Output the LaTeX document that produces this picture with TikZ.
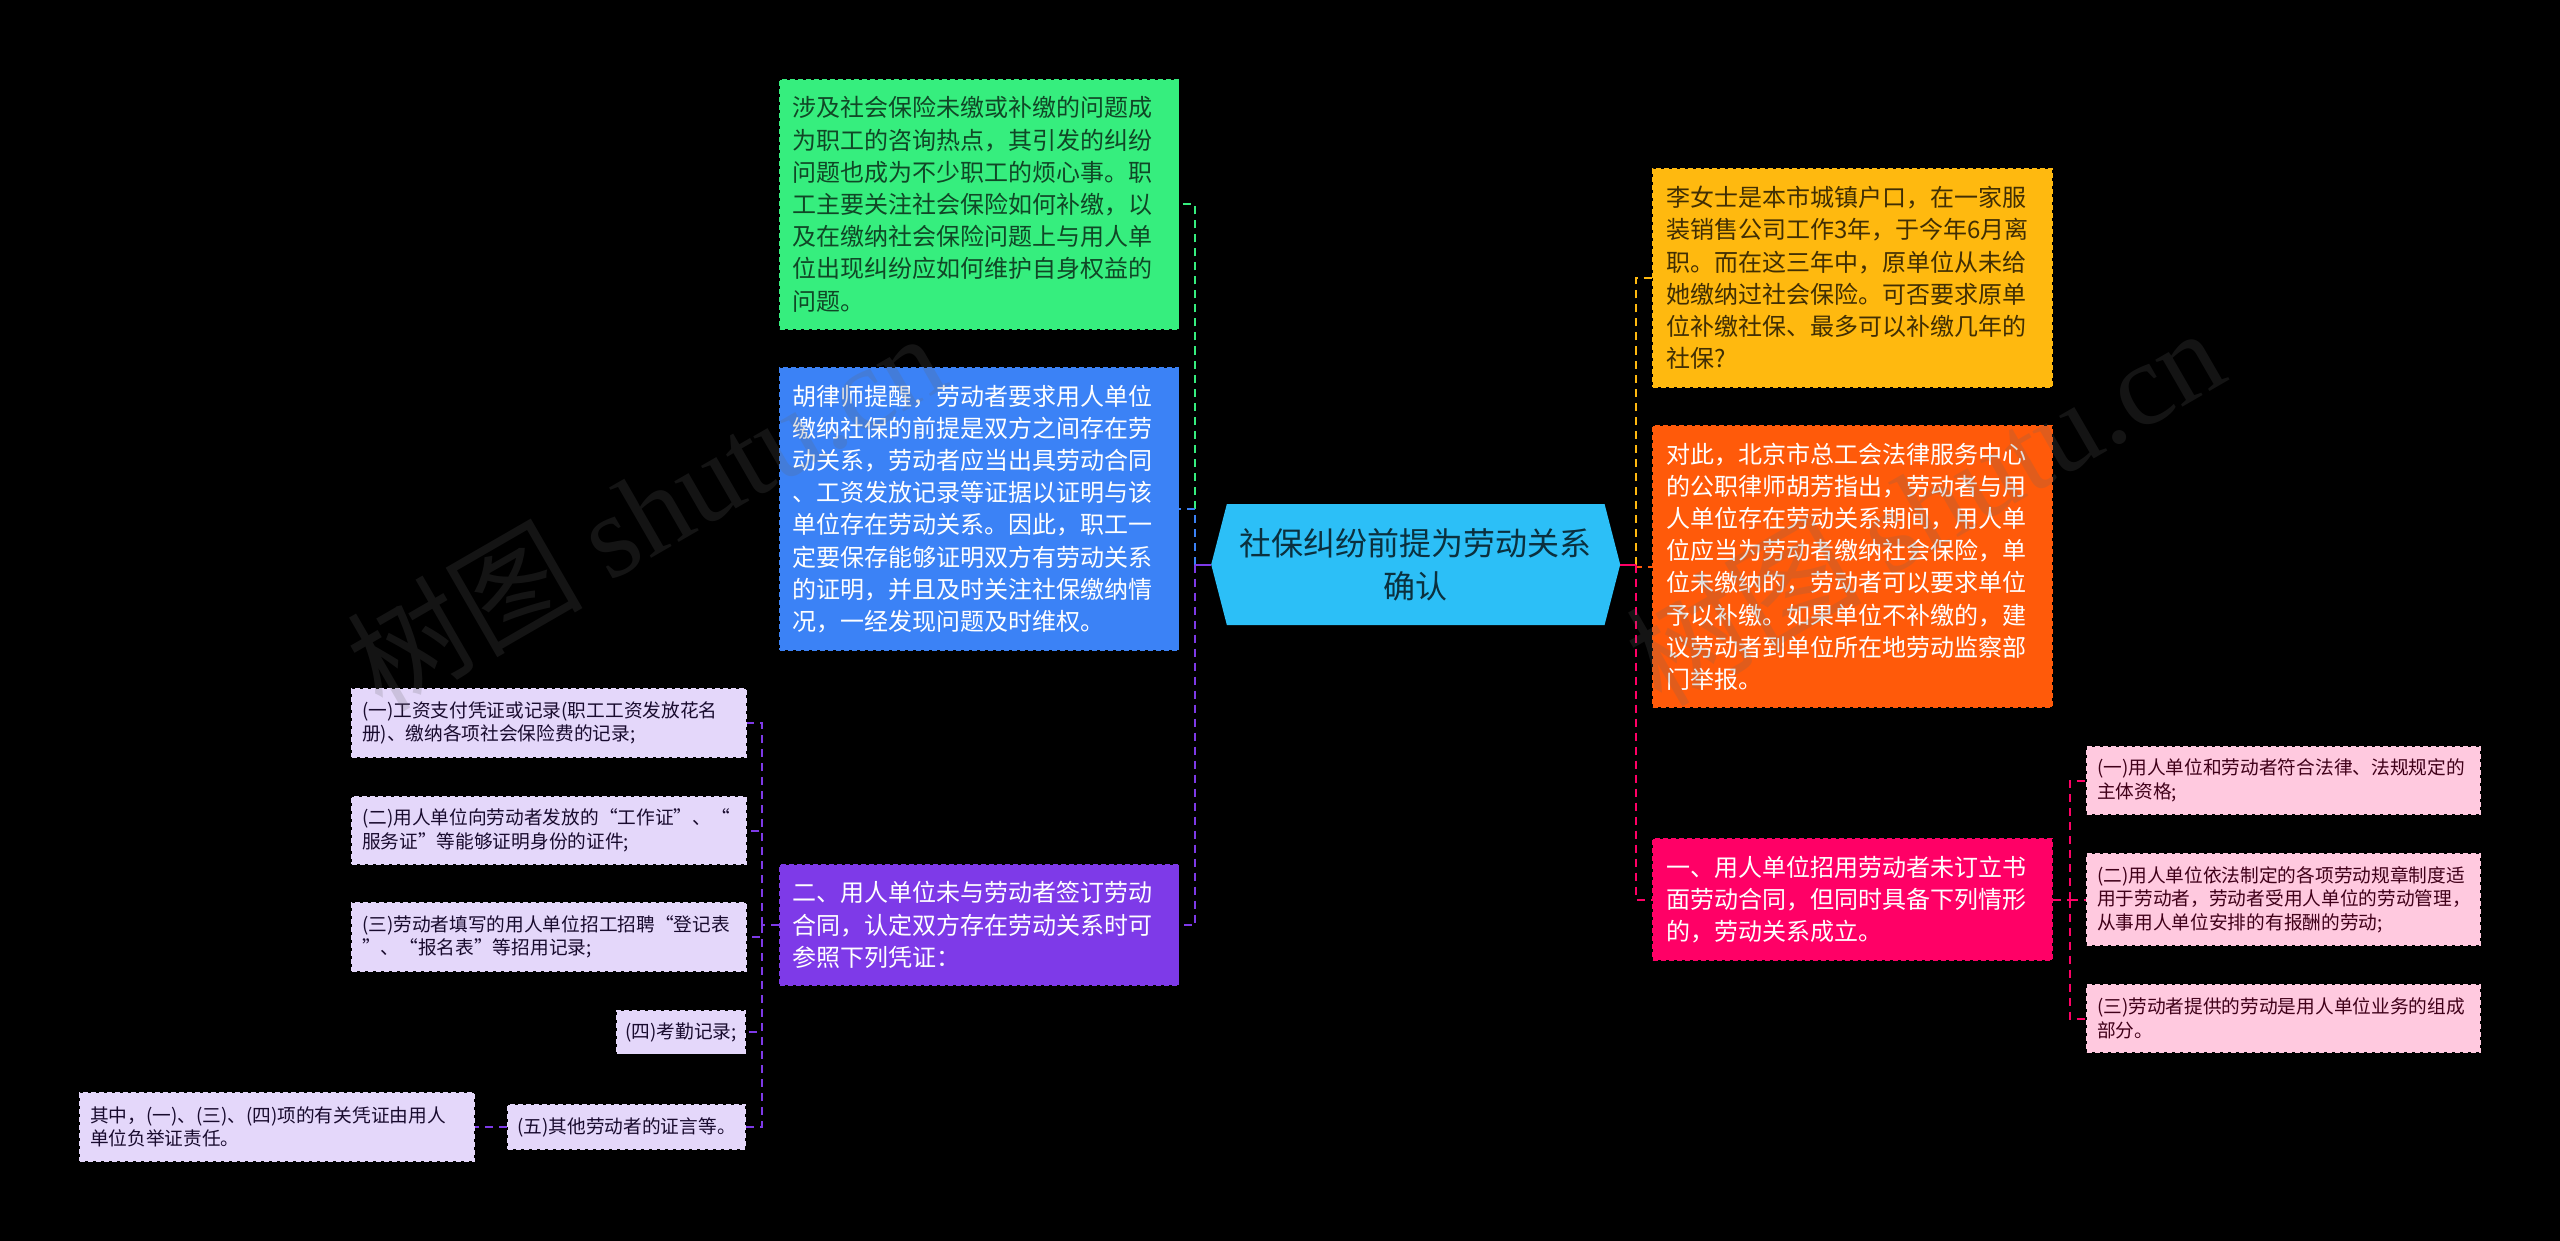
\documentclass[tikz,border=0pt]{standalone}
\usepackage{fontspec}
\setmainfont{Noto Sans CJK SC}
\newfontfamily\markfont{Liberation Serif}
\usetikzlibrary{shapes.symbols}
\definecolor{grn}{HTML}{36EE7E}
\definecolor{blu}{HTML}{3B82F6}
\definecolor{vio}{HTML}{7E3AE8}
\definecolor{yel}{HTML}{FFB90F}
\definecolor{org}{HTML}{FF5A0A}
\definecolor{pnk}{HTML}{FF0066}
\definecolor{sky}{HTML}{2CBFF7}
\definecolor{lvio}{HTML}{E4D7FA}
\definecolor{lpnk}{HTML}{FFC9DF}
\tikzset{
    branch box/.style={
        fill=#1,draw=#1,line width=1.5pt,dash pattern=on 5pt off 3pt,
        align=left,text width=373pt,inner xsep=13pt,inner ysep=0pt,
        font=\fontsize{24}{32.2}\selectfont
    },
    leaf box/.style={
        fill=#1,draw=#1,line width=1.5pt,dash pattern=on 5pt off 3pt,
        align=left,inner xsep=10pt,inner ysep=0pt,
        font=\fontsize{18.7}{23.7}\selectfont
    },
    link/.style={draw=#1,line width=2pt,dash pattern=on 8pt off 6pt},
    watermark/.style={
        rotate=30,text=black!60,text opacity=.2,inner sep=0pt,
        font=\fontsize{118}{118}\selectfont
    }
}
\begin{document}
\begin{tikzpicture}[x=1pt,y=-1pt]
        \useasboundingbox (0,0) rectangle (2560,1241);
        \fill[black] (0,0) rectangle (2560,1241);
        \coordinate (lt) at (1195,564.5);
        \coordinate (rt) at (1636,564.5);
        \coordinate (ltb) at (762,925);
        \coordinate (rtb) at (2069.5,899.5);
        \node[shape=signal,signal to=east and west,signal pointer angle=151,
        fill=sky,inner sep=0pt,minimum width=409pt,minimum height=121pt,align=center,
        text=black!75!sky,font=\fontsize{32}{43}\selectfont] (root) at (1415.7,564.5)
        {社保纠纷前提为劳动关系\\确认};
        \node[branch box=grn,text=black!70!grn,minimum height=249pt] (safety) at (979,204.3)
        {涉及社会保险未缴或补缴的问题成\\为职工的咨询热点，其引发的纠纷\\问题也成为不少职工的烦心事。职\\工主要关注社会保险如何补缴，以\\及在缴纳社会保险问题上与用人单\\位出现纠纷应如何维护自身权益的\\问题。};
        \node[branch box=blu,text=white,minimum height=282pt] (remind) at (979,509)
        {胡律师提醒，劳动者要求用人单位\\缴纳社保的前提是双方之间存在劳\\动关系，劳动者应当出具劳动合同\\、工资发放记录等证据以证明与该\\单位存在劳动关系。因此，职工一\\定要保存能够证明双方有劳动关系\\的证明，并且及时关注社保缴纳情\\况，一经发现问题及时维权。};
        \node[branch box=vio,text=white,minimum height=120pt] (proof) at (979,925)
        {二、用人单位未与劳动者签订劳动\\合同，认定双方存在劳动关系时可\\参照下列凭证：};
        \node[branch box=yel,text=black!75!yel,minimum height=218pt] (question) at (1852.5,278)
        {李女士是本市城镇户口，在一家服\\装销售公司工作3年，于今年6月离\\职。而在这三年中，原单位从未给\\她缴纳过社会保险。可否要求原单\\位补缴社保、最多可以补缴几年的\\社保?};
        \node[branch box=org,text=white,minimum height=281pt] (answer) at (1852.5,566.7)
        {对此，北京市总工会法律服务中心\\的公职律师胡芳指出，劳动者与用\\人单位存在劳动关系期间，用人单\\位应当为劳动者缴纳社会保险，单\\位未缴纳的，劳动者可以要求单位\\予以补缴。如果单位不补缴的，建\\议劳动者到单位所在地劳动监察部\\门举报。};
        \node[branch box=pnk,text=white,minimum height=121pt] (contract) at (1852.5,899.5)
        {一、用人单位招用劳动者未订立书\\面劳动合同，但同时具备下列情形\\的，劳动关系成立。};
        \node[leaf box=lvio,text width=374pt,text=black!80!vio,minimum height=68pt] (wage) at (549,723)
        {(一)工资支付凭证或记录(职工工资发放花名\\册)、缴纳各项社会保险费的记录;};
        \node[leaf box=lvio,text width=374pt,text=black!80!vio,minimum height=67pt] (card) at (549,830.5)
        {(二)用人单位向劳动者发放的“工作证”、“\\服务证”等能够证明身份的证件;};
        \node[leaf box=lvio,text width=374pt,text=black!80!vio,minimum height=68pt] (form) at (549,937)
        {(三)劳动者填写的用人单位招工招聘“登记表\\”、“报名表”等招用记录;};
        \node[leaf box=lvio,text=black!80!vio,minimum height=43pt,inner xsep=8.5pt,anchor=east] (attend) at (746,1032)
        {(四)考勤记录;};
        \node[leaf box=lvio,text=black!80!vio,minimum height=44pt,inner xsep=9.5pt,anchor=east] (witness) at (746,1127)
        {(五)其他劳动者的证言等。};
        \node[leaf box=lvio,text width=374pt,text=black!80!vio,minimum height=68pt] (burden) at (277,1127)
        {其中，(一)、(三)、(四)项的有关凭证由用人\\单位负举证责任。};
        \node[leaf box=lpnk,text width=373pt,text=black!75!pnk,minimum height=67pt] (subject) at (2283.5,780.5)
        {(一)用人单位和劳动者符合法律、法规规定的\\主体资格;};
        \node[leaf box=lpnk,text width=373pt,text=black!75!pnk,minimum height=91pt] (rules) at (2283.5,899.5)
        {(二)用人单位依法制定的各项劳动规章制度适\\用于劳动者，劳动者受用人单位的劳动管理，\\从事用人单位安排的有报酬的劳动;};
        \node[leaf box=lpnk,text width=373pt,text=black!75!pnk,minimum height=67pt] (part) at (2283.5,1018.5)
        {(三)劳动者提供的劳动是用人单位业务的组成\\部分。};
        \draw[link=grn] (lt) |- (safety.east);
        \draw[link=blu] (lt) |- (remind.east);
        \draw[link=vio] (lt) |- (proof.east);
        \draw[vio,line width=2pt] (root.west) -- (lt);
        \draw[link=yel] (rt) |- (question.west);
        \draw[link=org] (rt) |- (answer.west);
        \draw[link=pnk] (rt) |- (contract.west);
        \draw[pnk,line width=2pt] (root.east) -- (rt);
        \draw[link=vio] (proof.west) -- (ltb);
        \draw[link=vio] (ltb) |- (wage.east);
        \draw[link=vio] (ltb) |- (card.east);
        \draw[link=vio] (ltb) |- (form.east);
        \draw[link=vio] (ltb) |- (attend.east);
        \draw[link=vio] (ltb) |- (witness.east);
        \draw[link=vio] (witness.west) -- (burden.east);
        \draw[link=pnk] (contract.east) -- (rtb);
        \draw[link=pnk] (rtb) |- (subject.west);
        \draw[link=pnk] (rtb) -- (rules.west);
        \draw[link=pnk] (rtb) |- (part.west);
        \node[watermark] (markl) at (645,510) {树图 {\markfont shutu.cn}};
        \node[watermark] (markr) at (1924,505) {树图 {\markfont shutu.cn}};
    \end{tikzpicture}
\end{document}
